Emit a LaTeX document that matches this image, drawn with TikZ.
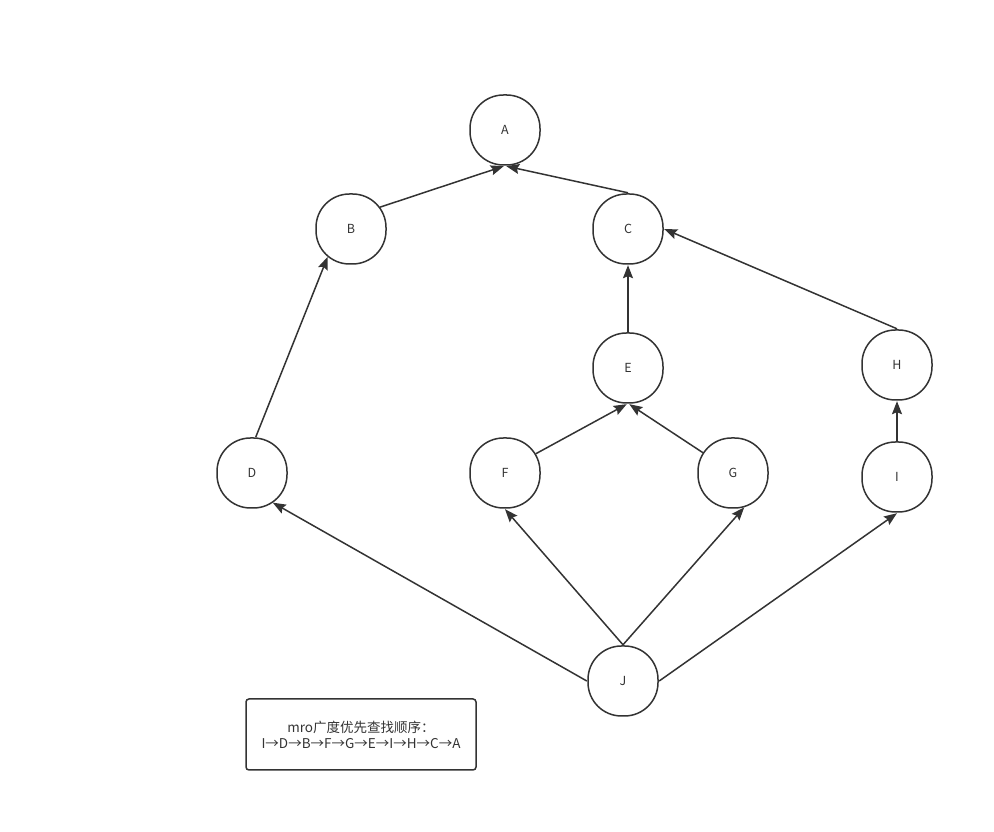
\documentclass[tikz,border=0pt]{standalone}
\usepackage{fontspec}
\setmainfont{Noto Sans CJK SC}
\usetikzlibrary{arrows.meta}
\definecolor{linegray}{HTML}{333333}
\tikzset{cls/.style={circle, minimum size=72pt, inner sep=0pt, text=linegray,
  font=\fontsize{12.5}{12.5}\selectfont,
  append after command={\pgfextra{\draw[draw=linegray, line width=1.5pt, rounded corners=33.5pt]
    (\tikzlastnode.center) +(-35pt,-35pt) rectangle +(35pt,35pt);}}},
note/.style={rectangle, draw=linegray, line width=1.5pt, rounded corners=3pt,
  minimum width=230pt, minimum height=71pt, align=center, text=linegray,
  font=\fontsize{13.5}{16}\selectfont},
inh/.style={->, draw=linegray, line width=1.5pt},
>={Stealth[length=13pt,width=10pt,inset=2pt]}}
\begin{document}
\begin{tikzpicture}[x=1pt,y=1pt]
  \useasboundingbox (0,0) rectangle (994,832);
  \node (A) [cls] at (505,702) {A};
  \node (B) [cls] at (351,603) {B};
  \node (C) [cls] at (628,603) {C};
  \node (E) [cls] at (628,464) {E};
  \node (H) [cls] at (897,467) {H};
  \node (D) [cls] at (252,359) {D};
  \node (F) [cls] at (505,359) {F};
  \node (G) [cls] at (733,359) {G};
  \node (I) [cls] at (897,355) {I};
  \node (J) [cls] at (623,151) {J};

  \draw [inh] (B.37) -- (A.268);
  \draw [inh] (C.north) -- (A.272);
  \draw [inh] (D.84) -- (B.230);
  \draw [inh] (E.north) -- (C.south);
  \draw [inh] (H.north) -- (C.east);
  \draw [inh] (F.32) -- (E.268);
  \draw [inh] (G.146) -- (E.272);
  \draw [inh] (I.north) -- (H.south);
  \draw [inh] (J.west) -- (D.305);
  \draw [inh] (J.north) -- (F.south);
  \draw [inh] (J.north) -- (G.288);
  \draw [inh] (J.east) -- (I.south);

  \node (order) [note] at (361,97.5) {mro广度优先查找顺序：\\I→D→B→F→G→E→I→H→C→A};
\end{tikzpicture}
\end{document}
